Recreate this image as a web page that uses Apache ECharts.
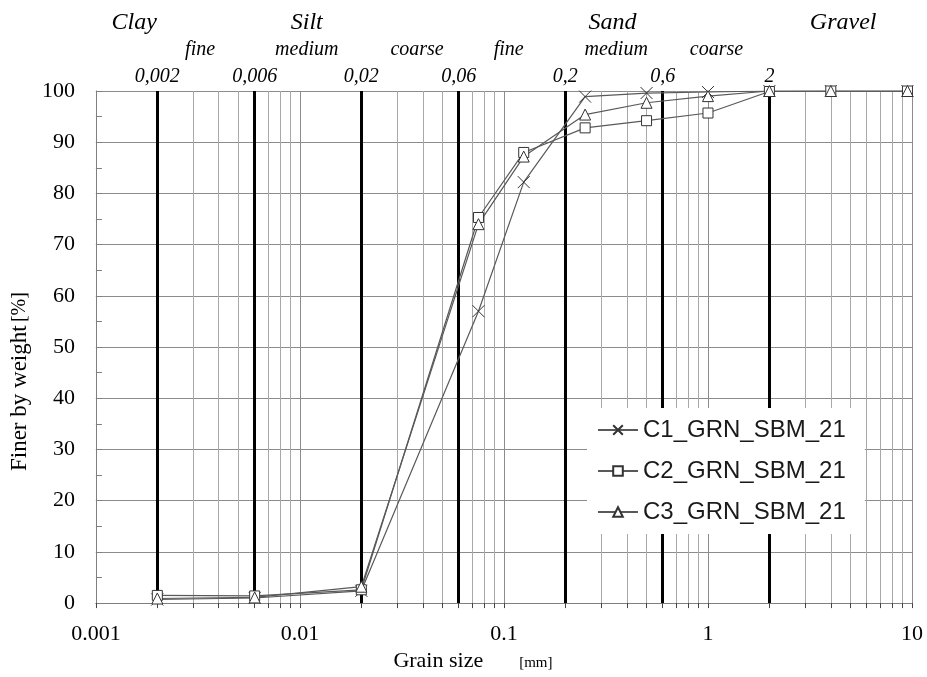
<!DOCTYPE html>
<html>
<head>
<meta charset="utf-8">
<script src="https://cdn.jsdelivr.net/npm/echarts@6/dist/echarts.min.js"></script>
<style>
html, body { margin: 0; padding: 0; background: #fff; }
#grainchart { width: 927px; height: 677px; }
</style>
</head>
<body>
<div id="grainchart"></div>
<script>
// sieve sizes [mm] and passing percentages
var grainSizes = [ 0.002, 0.006, 0.02, 0.075, 0.125, 0.25, 0.5, 1, 2, 4, 9.5 ];
var c1Values = [ 0.7, 1.0, 2.4, 57.0, 82.2, 98.9, 99.6, 99.8, 100, 100, 100 ];
var c2Values = [ 1.5, 1.4, 2.6, 75.3, 88.0, 92.8, 94.2, 95.7, 99.9, 100, 100 ];
var c3Values = [ 0.9, 1.1, 3.2, 74.0, 87.2, 95.4, 97.7, 99.0, 100, 100, 100 ];
var seriesNames = [ 'C1_GRN_SBM_21', 'C2_GRN_SBM_21', 'C3_GRN_SBM_21' ];

// fraction boundaries and their labels
var boundaryValues = [ 0.002, 0.006, 0.02, 0.06, 0.2, 0.6, 2 ];
var boundaryLabels = [ '0,002', '0,006', '0,02', '0,06', '0,2', '0,6', '2' ];
var fractionNames = [ 'Clay', 'Silt', 'Sand', 'Gravel' ];
var fractionAt = [ 0.00154, 0.0108, 0.34, 4.6 ];
var subNames = [ 'fine', 'medium', 'coarse', 'fine', 'medium', 'coarse' ];
var subAt = [ 0.00324, 0.0108, 0.0375, 0.1055, 0.355, 1.10 ];

var serif = "'Liberation Serif', 'Times New Roman', serif";
var crossSymbol = 'path://M0,0L10,10M10,0L0,10';

function pairs(values) {
	return grainSizes.map(function(x, i) {
		return [ x, values[i] ];
	});
}

function dataSeries(name, values, symbol, size) {
	return {
		name : name,
		type : 'line',
		z : 3,
		symbol : symbol,
		symbolSize : size,
		showAllSymbol : true,
		lineStyle : {
			color : '#595959',
			width : 1.2
		},
		itemStyle : {
			color : '#fff',
			borderColor : '#333',
			borderWidth : 1
		},
		emphasis : {
			disabled : true
		},
		data : pairs(values)
	};
}

var labelPoints = [];
fractionNames.forEach(function(n, i) {
	labelPoints.push({
		name : n,
		coord : [ fractionAt[i], 100 ],
		label : {
			offset : [ 0, -68 ],
			fontSize : 24
		}
	});
});
subNames.forEach(function(n, i) {
	labelPoints.push({
		name : n,
		coord : [ subAt[i], 100 ],
		label : {
			offset : [ 0, -41 ],
			fontSize : 20
		}
	});
});

var boundaryLines = boundaryValues.map(function(v, i) {
	return [ {
		coord : [ v, 0 ]
	}, {
		coord : [ v, 100 ],
		label : {
			formatter : boundaryLabels[i]
		}
	} ];
});

var option = {
	animation : false,
	backgroundColor : '#fff',
	grid : {
		left : 92,
		right : 15,
		top : 91,
		bottom : 69
	},
	legend : {
		data : seriesNames,
		orient : 'vertical',
		left : 587,
		top : 408,
		z : 6,
		padding : [ 10, 19, 10, 10 ],
		backgroundColor : '#fff',
		itemWidth : 40,
		itemHeight : 12,
		itemGap : 17,
		selectedMode : false,
		textStyle : {
			fontFamily : "'Liberation Sans', Arial, sans-serif",
			fontSize : 24,
			color : '#1a1a1a'
		}
	},
	xAxis : {
		type : 'log',
		logBase : 10,
		min : 0.001,
		max : 10,
		axisLine : {
			lineStyle : {
				color : '#7f7f7f'
			}
		},
		axisTick : {
			show : true,
			length : 5,
			lineStyle : {
				color : '#444'
			}
		},
		minorTick : {
			show : true,
			splitNumber : 9,
			length : 5,
			lineStyle : {
				color : '#444'
			}
		},
		splitLine : {
			show : true,
			lineStyle : {
				color : '#8c8c8c'
			}
		},
		minorSplitLine : {
			show : true,
			lineStyle : {
				color : '#a8a8a8'
			}
		},
		axisLabel : {
			fontFamily : serif,
			fontSize : 22,
			color : '#000',
			margin : 20
		},
		name : '{a|Grain size}{g|}{b|[mm]}',
		nameLocation : 'middle',
		nameGap : 46,
		nameTextStyle : {
			padding : [ 0, 62, 0, 0 ],
			rich : {
				a : {
					fontFamily : serif,
					fontSize : 22,
					color : '#000'
				},
				g : {
					width : 36
				},
				b : {
					fontFamily : serif,
					fontSize : 15,
					color : '#000',
					padding : [ 5, 0, 0, 0 ]
				}
			}
		}
	},
	yAxis : {
		type : 'value',
		min : 0,
		max : 100,
		interval : 10,
		axisLine : {
			show : true,
			lineStyle : {
				color : '#7f7f7f'
			}
		},
		axisTick : {
			show : true,
			inside : true,
			length : 6,
			lineStyle : {
				color : '#7f7f7f'
			}
		},
		minorTick : {
			show : true,
			splitNumber : 2,
			length : 6,
			lineStyle : {
				color : '#7f7f7f'
			}
		},
		splitLine : {
			show : true,
			lineStyle : {
				color : '#8c8c8c'
			}
		},
		axisLabel : {
			fontFamily : serif,
			fontSize : 22,
			color : '#000',
			margin : 21
		},
		name : '{a|Finer by weight} {b|[%]}',
		nameLocation : 'middle',
		nameGap : 44,
		nameTextStyle : {
			padding : [ 0, 69, 0, 0 ],
			rich : {
				a : {
					fontFamily : serif,
					fontSize : 23,
					color : '#000'
				},
				b : {
					fontFamily : serif,
					fontSize : 20,
					color : '#000'
				}
			}
		}
	},
	series : [ {
		name : 'bounds',
		type : 'line',
		z : 2,
		clip : false,
		data : [],
		markLine : {
			silent : true,
			z : 1,
			precision : 5,
			symbol : [ 'none', 'none' ],
			lineStyle : {
				color : '#000',
				width : 3,
				type : 'solid'
			},
			label : {
				position : 'end',
				distance : 4,
				fontFamily : serif,
				fontStyle : 'italic',
				fontSize : 20,
				color : '#000'
			},
			emphasis : {
				disabled : true
			},
			data : boundaryLines
		},
		markPoint : {
			silent : true,
			z : 1,
			symbol : 'circle',
			symbolSize : 0,
			label : {
				show : true,
				position : 'inside',
				formatter : '{b}',
				fontFamily : serif,
				fontStyle : 'italic',
				color : '#000'
			},
			emphasis : {
				disabled : true
			},
			data : labelPoints
		}
	},
	dataSeries(seriesNames[0], c1Values, crossSymbol, 12),
	dataSeries(seriesNames[1], c2Values, 'rect', 10),
	dataSeries(seriesNames[2], c3Values, 'triangle', 11) ]
};

var grainchart = echarts.init(document.getElementById('grainchart'));
grainchart.setOption(option);
</script>
</body>
</html>
